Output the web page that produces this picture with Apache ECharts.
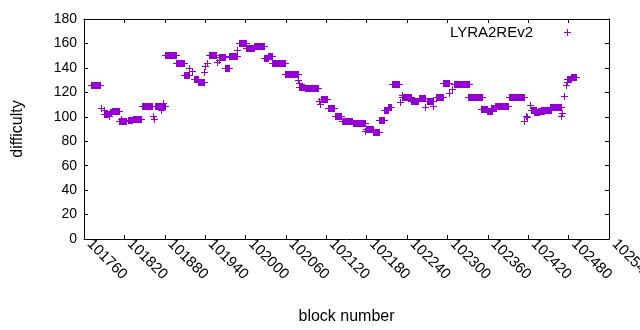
<!DOCTYPE html>
<html>
<head>
<meta charset="utf-8">
<script src="https://cdn.jsdelivr.net/npm/echarts@6/dist/echarts.min.js"></script>
<style>
  html, body { margin: 0; padding: 0; background: #fff; }
  #chart { width: 640px; height: 330px; }
</style>
</head>
<body>
<div id="chart"></div>
<script>
const seriesName = 'LYRA2REv2'

// runs of blocks with the same difficulty (start == end is a single block)
const blockStart = [
  101770, 101785, 101789, 101790, 101797, 101798, 101801, 101812, 101815, 101823,
  101826, 101833, 101846, 101863, 101864, 101866, 101875, 101878, 101880, 101896,
  101908, 101916, 101921, 101923, 101929, 101938, 101940, 101942, 101945, 101957,
  101960, 101960, 101969, 101976, 101988, 101991, 102000, 102013, 102027, 102033,
  102040, 102058, 102078, 102079, 102080, 102088, 102109, 102110, 102112, 102122,
  102133, 102143, 102159, 102178, 102179, 102189, 102198, 102205, 102211, 102218,
  102230, 102233, 102233, 102246, 102257, 102266, 102269, 102279, 102283, 102293,
  102303, 102306, 102309, 102330, 102350, 102358, 102365, 102370, 102391, 102414,
  102417, 102418, 102423, 102424, 102429, 102434, 102439, 102453, 102469, 102470,
  102473, 102476, 102477, 102478, 102484
]
const blockEnd = [
  101784, 101785, 101789, 101796, 101797, 101800, 101812, 101822, 101815, 101823,
  101832, 101844, 101861, 101863, 101864, 101880, 101875, 101878, 101897, 101909,
  101916, 101916, 101921, 101929, 101938, 101938, 101940, 101942, 101956, 101957,
  101960, 101970, 101976, 101987, 101988, 102000, 102013, 102028, 102033, 102040,
  102058, 102078, 102078, 102079, 102087, 102108, 102109, 102110, 102121, 102132,
  102142, 102158, 102177, 102178, 102189, 102198, 102206, 102211, 102216, 102228,
  102230, 102233, 102246, 102256, 102267, 102266, 102278, 102279, 102294, 102303,
  102303, 102306, 102332, 102352, 102358, 102366, 102372, 102390, 102414, 102414,
  102417, 102418, 102423, 102432, 102436, 102443, 102454, 102469, 102469, 102470,
  102473, 102476, 102477, 102484, 102491
]
const difficulty = [
  126.0, 107.2, 105.2, 102.5, 100.5, 104.0, 104.5, 96.8, 98.2, 96.2,
  97.0, 98.2, 108.8, 100.3, 98.2, 108.8, 105.8, 111.3, 150.5, 143.7,
  134.0, 140.0, 137.1, 131.2, 128.5, 137.0, 141.2, 144.0, 150.5, 144.5,
  146.7, 149.2, 139.9, 149.7, 154.9, 160.6, 156.5, 158.2, 148.1, 149.4,
  143.7, 134.8, 129.8, 127.6, 124.6, 123.5, 112.6, 110.7, 114.8, 106.9,
  100.6, 96.2, 95.2, 88.0, 90.2, 87.8, 97.4, 105.8, 108.0, 126.7,
  111.8, 118.1, 116.2, 112.6, 115.4, 108.0, 112.6, 109.0, 116.2, 127.6,
  119.5, 122.7, 127.1, 116.2, 106.0, 104.7, 106.8, 109.1, 116.2, 96.2,
  100.9, 99.8, 109.9, 105.8, 103.7, 105.0, 105.8, 108.2, 100.9, 103.1,
  117.2, 126.2, 128.1, 130.6, 132.4
]

const xMin = 101760
const xMax = 102540
const xStep = 60
const yMin = 0
const yMax = 180
const yStep = 20

const color = '#9400d3'
const font = 'Liberation Sans'
const plusIcon = 'path://M3,0h1v3h3v1h-3v3h-1v-3h-3v-1h3z'

// gnuplot style "+" points, a run of them drawn as one piece
const renderPlus = (params, api) => {
  const a = api.coord([api.value(0), api.value(2)])
  const b = api.coord([api.value(1), api.value(2)])
  const x0 = Math.round(a[0])
  const x1 = Math.round(b[0])
  const y = Math.round(a[1])
  return {
    type: 'group',
    children: [
      {type: 'rect', shape: {x: x0, y: y - 3, width: x1 - x0 + 1, height: 7}, style: {fill: color}},
      {type: 'rect', shape: {x: x0 - 3, y: y, width: x1 - x0 + 7, height: 1}, style: {fill: color}}
    ]
  }
}

const axisBase = (min, max, interval) => ({
  type: 'value',
  min, max, interval,
  axisLine: {show: true, onZero: false, lineStyle: {color: '#000', width: 1}},
  axisTick: {show: true, inside: true, length: 4, lineStyle: {color: '#000'}},
  splitLine: {show: false}
})

const chart = echarts.init(document.getElementById('chart'), null, {renderer: 'canvas'})

const option = {
  animation: false,
  grid: {left: 84, right: 31, top: 19, bottom: 91, containLabel: false, outerBoundsMode: 'none'},
  legend: {
    data: [{name: seriesName, icon: plusIcon}],
    right: 64,
    top: 20,
    align: 'right',
    itemWidth: 7,
    itemHeight: 7,
    itemStyle: {color},
    textStyle: {fontFamily: font, fontSize: 15, color: '#000', padding: [0, 26, 0, 0]}
  },
  xAxis: [
    {
      ...axisBase(xMin, xMax, xStep),
      position: 'bottom',
      name: 'block number',
      nameLocation: 'middle',
      nameGap: 70,
      nameTextStyle: {fontFamily: font, fontSize: 16, color: '#000'},
      axisLabel: {
        rotate: -45, margin: 8, align: 'left', verticalAlign: 'bottom',
        color: '#000', fontFamily: font, fontSize: 15,
        showMinLabel: true, showMaxLabel: true,
        formatter: v => String(v)
      }
    },
    {
      ...axisBase(xMin, xMax, xStep),
      position: 'top',
      axisLabel: {show: false}
    }
  ],
  yAxis: [
    {
      ...axisBase(yMin, yMax, yStep),
      position: 'left',
      name: 'difficulty',
      nameLocation: 'middle',
      nameGap: 58,
      nameTextStyle: {fontFamily: font, fontSize: 16, color: '#000'},
      axisLabel: {margin: 7, color: '#000', fontFamily: font, fontSize: 14}
    },
    {
      ...axisBase(yMin, yMax, yStep),
      position: 'right',
      axisLabel: {show: false}
    }
  ],
  series: [
    {
      name: seriesName,
      type: 'custom',
      renderItem: renderPlus,
      itemStyle: {color},
      encode: {x: [0, 1], y: 2},
      data: blockStart.map((s, i) => [s, blockEnd[i], difficulty[i]])
    }
  ]
}

chart.setOption(option)
</script>
</body>
</html>
